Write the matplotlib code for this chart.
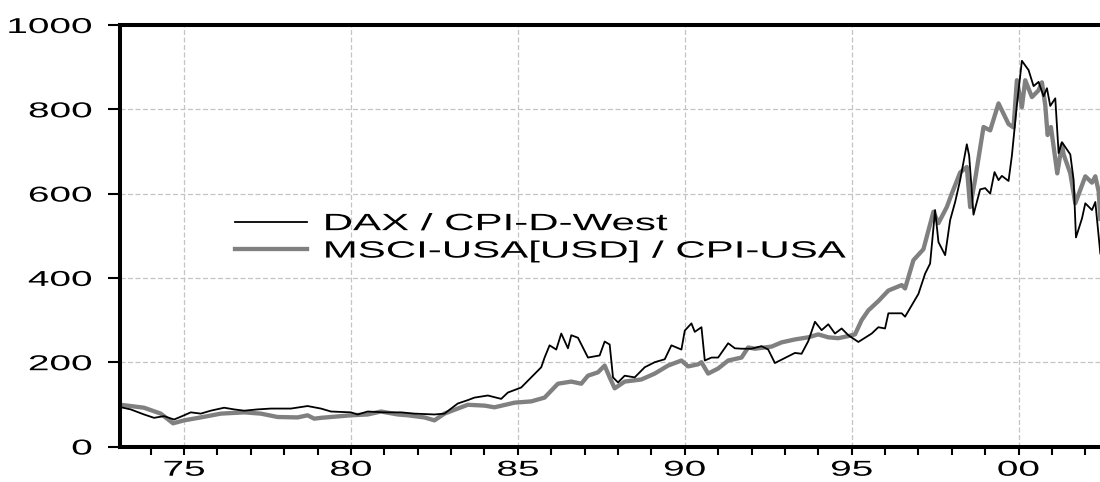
import matplotlib
matplotlib.use("Agg")
import matplotlib.pyplot as plt
from matplotlib import patheffects
from matplotlib.transforms import Affine2D

# DAX deflated by West German CPI
dax_years = [1973.0, 1973.4, 1973.8, 1974.1, 1974.4, 1974.7, 1975.0, 1975.2, 1975.5, 1975.8,
             1976.2, 1976.5, 1976.8, 1977.2, 1977.6, 1978.2, 1978.7, 1979.1, 1979.4, 1980.0,
             1980.2, 1980.5, 1981.0, 1981.5, 1981.9, 1982.5, 1982.8, 1983.2, 1983.5, 1983.7,
             1984.1, 1984.5, 1984.7, 1985.1, 1985.4, 1985.7, 1985.8, 1985.95, 1986.15, 1986.3,
             1986.5, 1986.6, 1986.8, 1987.1, 1987.3, 1987.45, 1987.6, 1987.75, 1987.85, 1988.0,
             1988.2, 1988.5, 1988.8, 1989.1, 1989.4, 1989.6, 1989.9, 1990.0, 1990.2, 1990.3,
             1990.5, 1990.6, 1990.8, 1991.0, 1991.3, 1991.5, 1991.7, 1992.0, 1992.3, 1992.5,
             1992.7, 1993.0, 1993.3, 1993.5, 1993.7, 1993.9, 1994.1, 1994.3, 1994.5, 1994.7,
             1994.9, 1995.2, 1995.6, 1995.8, 1996.0, 1996.1, 1996.5, 1996.6, 1996.8, 1997.0,
             1997.2, 1997.35, 1997.5, 1997.6, 1997.8, 1997.95, 1998.1, 1998.25, 1998.45, 1998.52,
             1998.65, 1998.85, 1999.0, 1999.15, 1999.28, 1999.4, 1999.5, 1999.7, 1999.8, 1999.95,
             2000.1, 2000.3, 2000.45, 2000.6, 2000.75, 2000.85, 2000.95, 2001.1, 2001.2, 2001.3,
             2001.55, 2001.65, 2001.72, 2001.9, 2002.0, 2002.2, 2002.3, 2002.45]
dax_values = [95, 88, 76, 68, 72, 64, 74, 81, 78, 85,
              92, 88, 85, 88, 90, 90, 96, 90, 83, 81,
              76, 83, 81, 81, 78, 76, 78, 102, 110, 116,
              121, 113, 128, 140, 164, 188, 211, 240, 230, 268,
              233, 264, 258, 211, 214, 216, 249, 242, 164, 152,
              168, 164, 188, 200, 207, 240, 230, 275, 292, 272,
              283, 204, 211, 211, 245, 233, 232, 232, 238, 230,
              198, 210, 222, 220, 250, 296, 276, 290, 268, 280,
              264, 248, 268, 283, 280, 316, 316, 308, 335, 362,
              410, 434, 561, 485, 454, 537, 580, 632, 717, 690,
              550, 610, 613, 600, 651, 632, 642, 630, 690, 810,
              915, 893, 855, 865, 831, 850, 808, 826, 696, 722,
              693, 632, 496, 541, 577, 561, 580, 458]

# MSCI USA (USD) deflated by US CPI
msci_years = [1973.0, 1973.4, 1973.8, 1974.3, 1974.67, 1975.0, 1975.5, 1976.1, 1976.8, 1977.3,
              1977.8, 1978.4, 1978.7, 1978.9, 1979.1, 1980.0, 1980.5, 1980.9, 1981.4, 1981.7,
              1982.2, 1982.5, 1982.8, 1983.2, 1983.5, 1984.0, 1984.3, 1984.9, 1985.4, 1985.8,
              1986.2, 1986.6, 1986.9, 1987.1, 1987.4, 1987.6, 1987.75, 1987.9, 1988.2, 1988.7,
              1989.1, 1989.5, 1989.9, 1990.1, 1990.4, 1990.5, 1990.7, 1991.0, 1991.3, 1991.7,
              1991.9, 1992.1, 1992.6, 1992.9, 1993.3, 1993.7, 1994.0, 1994.3, 1994.6, 1994.9,
              1995.1, 1995.3, 1995.5, 1995.8, 1996.1, 1996.5, 1996.6, 1996.85, 1997.15, 1997.45,
              1997.6, 1997.85, 1998.0, 1998.25, 1998.45, 1998.55, 1998.7, 1998.95, 1999.15, 1999.4,
              1999.7, 1999.85, 1999.95, 2000.1, 2000.2, 2000.4, 2000.6, 2000.7, 2000.8, 2000.87,
              2000.97, 2001.16, 2001.3, 2001.35, 2001.55, 2001.7, 2002.0, 2002.2, 2002.3, 2002.4,
              2002.45]
msci_values = [100, 96, 92, 78, 55, 62, 69, 78, 81, 78,
               70, 69, 74, 66, 68, 74, 76, 83, 76, 74,
               69, 62, 78, 90, 99, 97, 93, 104, 107, 116,
               149, 154, 149, 168, 176, 192, 164, 138, 154, 159,
               173, 192, 204, 190, 195, 200, 173, 185, 204, 211,
               235, 232, 237, 247, 254, 259, 266, 259, 257, 262,
               266, 300, 323, 345, 370, 383, 375, 442, 468, 557,
               530, 568, 600, 650, 663, 568, 634, 758, 750, 814,
               765, 757, 869, 805, 869, 829, 845, 864, 810, 739,
               758, 648, 717, 693, 648, 577, 641, 626, 641, 605,
               540]

major_years = [1975, 1980, 1985, 1990, 1995, 2000]
major_labels = ["75", "80", "85", "90", "95", "00"]
minor_years = list(range(1974, 2003))
y_ticks = [0, 200, 400, 600, 800, 1000]


class Stretch(patheffects.AbstractPathEffect):
    """Widen glyphs horizontally around a pivot (the original chart has wide type)."""

    def __init__(self, sx, anchor="left"):
        super().__init__()
        self.sx = sx
        self.anchor = anchor

    def draw_path(self, renderer, gc, tpath, affine, rgbFace=None):
        ext = tpath.get_extents()
        if self.anchor == "right":
            px = ext.x1
        elif self.anchor == "center":
            px = (ext.x0 + ext.x1) / 2
        else:
            px = 0
        t = Affine2D().translate(-px, 0).scale(self.sx, 1).translate(px, 0)
        renderer.draw_path(gc, tpath, t + affine, rgbFace)


plt.rcParams["font.family"] = ["Liberation Sans", "DejaVu Sans"]

fig = plt.figure(figsize=(11, 4.82), dpi=100)
ax = fig.add_axes([120 / 1100, 35.5 / 482, 980 / 1100, 421.5 / 482])

ax.plot(dax_years, dax_values, color="black", lw=1.3, label="DAX / CPI-D-West", zorder=3)
ax.plot(msci_years, msci_values, color="#808080", lw=3.1, label="MSCI-USA[USD] / CPI-USA", zorder=2)

ax.set_xlim(1973.08, 2002.44)
ax.set_ylim(0, 1000)

ax.set_xticks(major_years)
ax.set_xticklabels(major_labels)
ax.set_xticks(minor_years, minor=True)
ax.set_yticks(y_ticks)

ax.grid(True, which="major", color="#c4c4c4", linestyle=(0, (4, 2)), linewidth=0.9)
ax.set_axisbelow(True)

for side in ["left", "top", "bottom"]:
    ax.spines[side].set_linewidth(2.9)
ax.spines["right"].set_visible(False)

ax.tick_params(axis="y", direction="out", length=9, width=1.5, labelsize=15.5, pad=11, right=False)
ax.tick_params(axis="x", which="major", direction="out", length=6, width=1.5, labelsize=15.5, pad=3.5, top=False)
ax.tick_params(axis="x", which="minor", direction="out", length=6, width=1.5, top=False)

for tick in ax.yaxis.get_major_ticks():
    tick.label1.set_path_effects([Stretch(1.8, "right")])
for tick in ax.xaxis.get_major_ticks():
    tick.label1.set_path_effects([Stretch(1.8, "center")])

leg = ax.legend(loc="center left", bbox_to_anchor=(0.117, 0.495), frameon=False,
                fontsize=17, handlelength=3.05, handletextpad=0.68, labelspacing=0.23,
                borderpad=0, borderaxespad=0)
for txt in leg.get_texts():
    txt.set_path_effects([Stretch(1.78, "left")])

fig.savefig("out.png", dpi=100)
